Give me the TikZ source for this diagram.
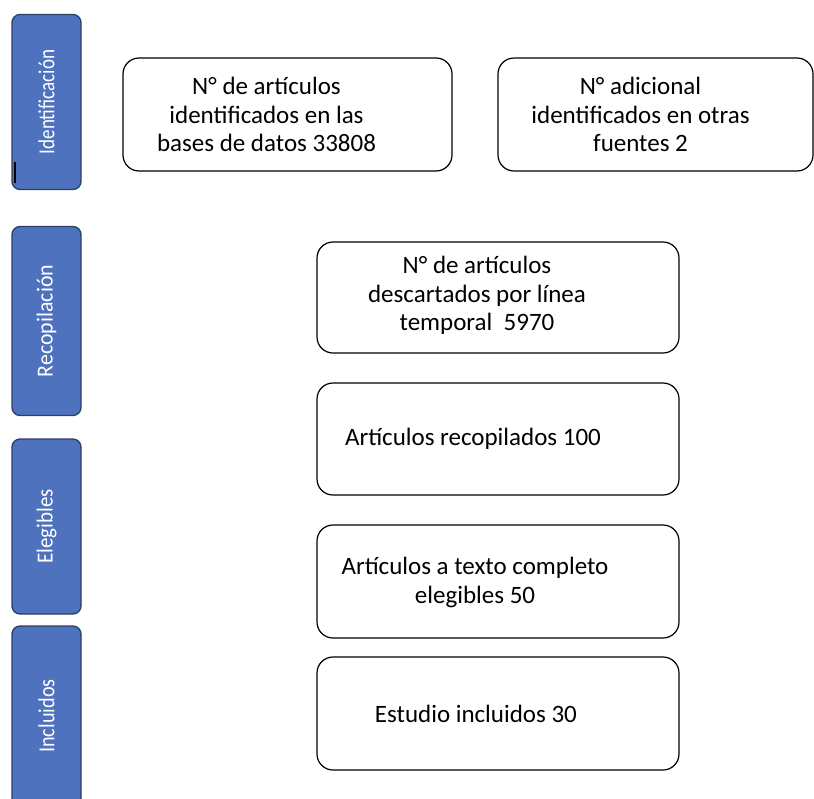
\documentclass[tikz,border=0pt]{standalone}
\usepackage{fontspec}
\setmainfont{Carlito}
\definecolor{barblue}{HTML}{4E72BE}
\definecolor{barline}{HTML}{2B3F63}

\begin{document}
\begin{tikzpicture}[x=1pt,y=-1pt,
  faza/.style={draw=barline,line width=1.3pt,fill=barblue,rounded corners=8pt,minimum width=69pt,inner sep=0pt},
  oznaka/.style={rotate=90,text=white,inner sep=0pt,font=\fontsize{23}{26}\selectfont},
  okvir/.style={draw=black,line width=1.2pt,rounded corners=16pt,inner sep=0pt},
  besedilo/.style={align=center,inner sep=0pt,font=\fontsize{25}{28.5}\selectfont}]
\path[use as bounding box,clip] (0,0) rectangle (814,798);

\coordinate (fid) at (46.5,102);
\coordinate (fre) at (46.5,321);
\coordinate (fel) at (46.5,526.5);
\coordinate (fin) at (46.5,716);

\coordinate (bd) at (287.5,114.5);
\coordinate (of) at (655.5,114.5);
\coordinate (lt) at (498,297.5);
\coordinate (ar) at (498,439);
\coordinate (ae) at (498,581.5);
\coordinate (ei) at (498,713.5);

% fases
\node[faza,minimum height=175pt] (ident) at (fid) {};
\node[faza,minimum height=189pt] (recop) at (fre) {};
\node[faza,minimum height=175pt] (eleg) at (fel) {};
\node[faza,minimum height=180pt] (incl) at (fin) {};

\node[oznaka] (tid) at (fid) {\scalebox{0.83}[1]{Identificación}};
\node[oznaka] (tre) at (fre) {\scalebox{0.95}[1]{Recopilación}};
\node[oznaka] (tel) at (fel) {\scalebox{0.91}[1]{Elegibles}};
\node[oznaka] (tin) at (fin) {\scalebox{0.88}[1]{Incluidos}};

\coordinate (m1) at (15,162);
\coordinate (m2) at (15,183);
\draw[line width=1.6pt] (m1)--(m2);

% cuadros
\node[okvir,minimum width=329pt,minimum height=113pt] (bases) at (bd) {};
\node[okvir,minimum width=315pt,minimum height=113pt] (otras) at (of) {};
\node[okvir,minimum width=362pt,minimum height=111pt] (linea) at (lt) {};
\node[okvir,minimum width=362pt,minimum height=112pt] (recopilados) at (ar) {};
\node[okvir,minimum width=362pt,minimum height=113pt] (completo) at (ae) {};
\node[okvir,minimum width=362pt,minimum height=113pt] (incluidos) at (ei) {};

\node[besedilo,xshift=-21pt] (tbases) at (bd) {N° de artículos\\identificados en las\\bases de datos 33808};
\node[besedilo,xshift=-15pt] (totras) at (of) {N° adicional\\identificados en otras\\fuentes 2};
\node[besedilo,xshift=-21pt,yshift=2pt] (tlinea) at (lt) {N° de artículos\\descartados por línea\\temporal~~5970};
\node[besedilo,xshift=-25pt] (trecop) at (ar) {Artículos recopilados 100};
\node[besedilo,xshift=-23pt,yshift=-1pt] (tcompleto) at (ae) {Artículos a texto completo\\elegibles 50};
\node[besedilo,xshift=-22pt] (tincl) at (ei) {Estudio incluidos 30};
\end{tikzpicture}
\end{document}
